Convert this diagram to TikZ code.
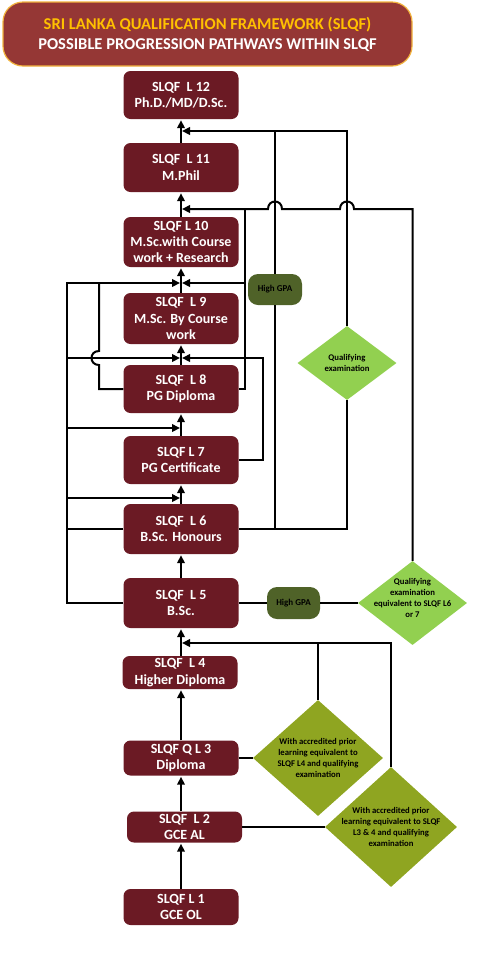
\documentclass[tikz,border=0pt]{standalone}
\usepackage{fontspec}
\setmainfont{Carlito}
\usetikzlibrary{arrows.meta,shapes.geometric,calc}
\definecolor{titlered}{HTML}{953735}
\definecolor{titleline}{HTML}{F2B33D}
\definecolor{titleyel}{HTML}{FFC000}
\definecolor{lvlred}{HTML}{6B1A24}
\definecolor{gpagreen}{HTML}{4F6228}
\definecolor{qelight}{HTML}{92D050}
\definecolor{qeolive}{HTML}{8FA521}
\tikzset{
  lvl/.style={rectangle, rounded corners=7pt, fill=lvlred, text=white,
    font=\bfseries\fontsize{14}{16.3}\selectfont, align=center,
    minimum width=115pt, inner sep=1pt},
  gpa/.style={rectangle, rounded corners=10pt, fill=gpagreen,
    font=\bfseries\fontsize{9}{10}\selectfont, inner sep=0pt},
  qbox/.style={diamond, fill=#1, inner sep=0pt},
  qtxt/.style={font=\bfseries\fontsize{8.7}{11}\selectfont, align=center, inner sep=0pt},
  conn/.style={line width=2pt},
  arr/.style={conn, -{Triangle[length=8pt,width=7.5pt]}, shorten >=1pt},
}
\begin{document}
\begin{tikzpicture}[x=1pt,y=-1pt]
     \useasboundingbox (0,0) rectangle (494,978);
     % Tiêu đề
     \node[rectangle, rounded corners=20pt, fill=titlered, draw=titleline, line width=1.2pt,
       minimum width=409pt, minimum height=64pt, text=white, align=center,
       font=\bfseries\fontsize{16.5}{20}\selectfont] (title) at (207.5,34)
       {\textcolor{titleyel}{SRI LANKA QUALIFICATION FRAMEWORK (SLQF)}\\POSSIBLE PROGRESSION PATHWAYS WITHIN SLQF};
     % Các bậc SLQF
     \node[lvl, minimum height=48pt] (l12) at (181,95) {SLQF\ \ L 12\\Ph.D./MD/D.Sc.};
     \node[lvl, minimum height=49pt] (l11) at (181,167.5) {SLQF\ \ L 11\\M.Phil};
     \node[lvl, minimum height=50pt] (l10) at (181,242) {SLQF L 10\\M.Sc.with Course\\work + Research};
     \node[lvl, minimum height=51pt] (l9) at (181,318.5) {SLQF\ \ L 9\\M.Sc. By Course\\work};
     \node[lvl, minimum height=48pt] (l8) at (181,389) {SLQF\ \ L 8\\PG Diploma};
     \node[lvl, minimum height=48pt] (l7) at (181,460) {SLQF L 7\\PG Certificate};
     \node[lvl, minimum height=50pt] (l6) at (181,529) {SLQF\ \ L 6\\B.Sc. Honours};
     \node[lvl, minimum height=50pt] (l5) at (181,603) {SLQF\ \ L 5\\B.Sc.};
     \node[lvl, minimum height=33pt] (l4) at (180,672.5) {SLQF\ \ L 4\\Higher Diploma};
     \node[lvl, minimum height=35pt] (l3) at (181,758) {SLQF Q L 3\\Diploma};
     \node[lvl, minimum height=31pt] (l2) at (184.5,827) {SLQF\ \ L 2\\GCE AL};
     \node[lvl, minimum height=36pt] (l1) at (181,907) {SLQF L 1\\GCE OL};
     % Điều kiện
     \node[gpa, minimum width=54pt, minimum height=31pt] (gpa1) at (275,289.5) {High GPA};
     \node[gpa, minimum width=53pt, minimum height=32pt] (gpa2) at (293.5,603) {High GPA};
     \node[qbox=qelight, minimum width=99pt, minimum height=74pt] (qe1) at (347,363) {};
     \node[qtxt] at (qe1) {Qualifying\\examination};
     \node[qbox=qelight, minimum width=109pt, minimum height=84pt] (qe2) at (412.5,603) {};
     \node[qtxt] at ($(qe2)+(0,-5)$) {Qualifying\\examination\\equivalent to SLQF L6\\or 7};
     \node[qbox=qeolive, minimum width=130pt, minimum height=116pt] (qe3) at (318,758) {};
     \node[qtxt] at (qe3) {With accredited prior\\learning equivalent to\\SLQF L4 and qualifying\\examination};
     \node[qbox=qeolive, minimum width=132pt, minimum height=120pt] (qe4) at (391,827) {};
     \node[qtxt] at (qe4) {With accredited prior\\learning equivalent to SLQF\\L3 \& 4 and qualifying\\examination};
     % Điểm nối trên trục chính
     \coordinate (mx) at (181,0);
     \coordinate (m12) at (181,131);
     \coordinate (m11) at (181,209);
     \coordinate (m10) at (181,283);
     \coordinate (m9) at (181,358);
     \coordinate (m8) at (181,428);
     \coordinate (m7) at (181,498);
     \coordinate (m5) at (181,643);
     \coordinate (bl) at (67,0);
     \coordinate (bl2) at (99,0);
     \coordinate (br) at (245,0);
     \coordinate (br2) at (263,0);
     % Trục chính
     \foreach \a/\b in {l1/l2,l2/l3,l3/l4,l4/l5,l5/l6,l6/l7,l7/l8,l8/l9,l9/l10,l10/l11,l11/l12}
       \draw[arr] (mx |- \a.north) -- (mx |- \b.south);
     % Bên trái
     \draw[arr] (l5.west) -| (bl |- m10) -- (m10);
     \foreach \m in {m9,m8,m7}
       \draw[arr] (bl |- \m) -- (\m);
     \draw[conn] (l6.west) -- (l6.west -| bl);
     \draw[conn] (l8.west) -| ($(bl2 |- m9)+(0,7)$) .. controls +(-10,0) and +(-10,0) .. ++(0,-14) -- (bl2 |- m10);
     % Bên phải
     \draw[conn] (l8.east) -| (br |- m11);
     \draw[arr] (br |- m10) -- (m10);
     \draw[arr] (l7.east) -| (br2 |- m9) -- (m9);
     \draw[conn] (l6.east) -| (qe1.south);
     \draw[conn] (gpa1.south) -- (gpa1.south |- l6.east);
     \draw[conn] (gpa1.north) -- (gpa1.north |- m12);
     \draw[arr] (qe1.north) |- (m12);
     \draw[conn] (l5.east) -- (gpa2.west);
     \draw[conn] (gpa2.east) -- (qe2.west);
     \draw[arr] (qe2.north) |- ($(qe1.north |- m11)+(7,0)$)
       .. controls +(0,-10) and +(0,-10) .. ++(-14,0)
       -- ($(gpa1.north |- m11)+(7,0)$)
       .. controls +(0,-10) and +(0,-10) .. ++(-14,0) -- (m11);
     % Phía dưới
     \draw[arr] (qe4.north) |- (m5);
     \draw[conn] (qe3.north) -- (qe3.north |- m5);
     \draw[conn] (l3.east) -- (qe3.west);
     \draw[conn] (l2.east) -- (qe4.west);
\end{tikzpicture}
\end{document}
